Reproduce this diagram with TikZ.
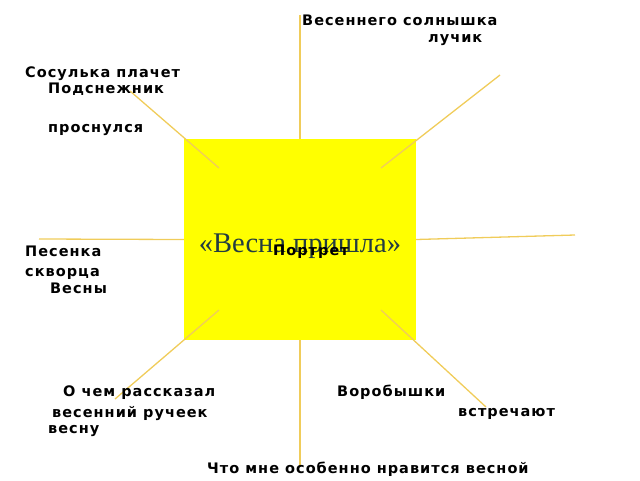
\documentclass[tikz,border=0pt]{standalone}
\usepackage{fontspec}
\setmainfont{Liberation Serif}
\newfontfamily\phrasefont{DejaVu Sans}[LetterSpace=7]
\definecolor{raygold}{RGB}{240,204,90}
\definecolor{titleink}{RGB}{35,60,65}
\definecolor{sunyellow}{RGB}{255,255,0}

\tikzstyle{sunbox} = [rectangle, minimum width=232pt, minimum height=201pt, inner sep=0pt, fill=sunyellow]
\tikzstyle{phrase} = [anchor=base west, inner sep=0pt, font=\phrasefont\bfseries\fontsize{14.5}{17}\selectfont]
\tikzstyle{ray} = [draw=raygold, line width=1.3pt]

\begin{document}
\begin{tikzpicture}[x=1pt,y=-1pt]
\useasboundingbox (0,0) rectangle (640,480);
\node (sun) [sunbox] at (300,239.5) {};

% ends of the rays
\coordinate (tl) at (219,168);
\coordinate (tr) at (381,168);
\coordinate (bl) at (219,310);
\coordinate (br) at (381,310);
\coordinate (topend) at (300,15);
\coordinate (tlend) at (130,91);
\coordinate (trend) at (500,75);
\coordinate (leftend) at (39,239);
\coordinate (rightend) at (575,235);
\coordinate (blend) at (115,399);
\coordinate (bottomend) at (300,467);
\coordinate (brend) at (486,407);

\draw [ray] (sun.north) -- (topend);
\draw [ray] (tl) -- (tlend);
\draw [ray] (tr) -- (trend);
\draw [ray] (sun.west) -- (leftend);
\draw [ray] (sun.east) -- (rightend);
\draw [ray] (bl) -- (blend);
\draw [ray] (sun.south) -- (bottomend);
\draw [ray] (br) -- (brend);

\node (title) [anchor=base, inner sep=0pt, text=titleink, font=\fontsize{28.5}{32}\selectfont] at (300,252) {«Весна пришла»};
\node (portrait) [phrase] at (273,255) {Портрет};

\node (sunray1) [phrase] at (302,25) {Весеннего солнышка};
\node (sunray2) [phrase] at (428,42) {лучик};
\node (icicle) [phrase] at (25,77) {Сосулька плачет};
\node (snow1) [phrase] at (48,93) {Подснежник};
\node (snow2) [phrase] at (48,132) {проснулся};
\node (song1) [phrase] at (25,256) {Песенка};
\node (song2) [phrase] at (25,276) {скворца};
\node (song3) [phrase] at (50,293) {Весны};
\node (brook1) [phrase] at (63,396) {О чем рассказал};
\node (brook2) [phrase] at (52,417) {весенний ручеек};
\node (brook3) [phrase] at (48,433) {весну};
\node (sparrow1) [phrase] at (337,396) {Воробышки};
\node (sparrow2) [phrase] at (458,416) {встречают};
\node (liking) [phrase] at (207,473) {Что мне особенно нравится весной};

\end{tikzpicture}
\end{document}
